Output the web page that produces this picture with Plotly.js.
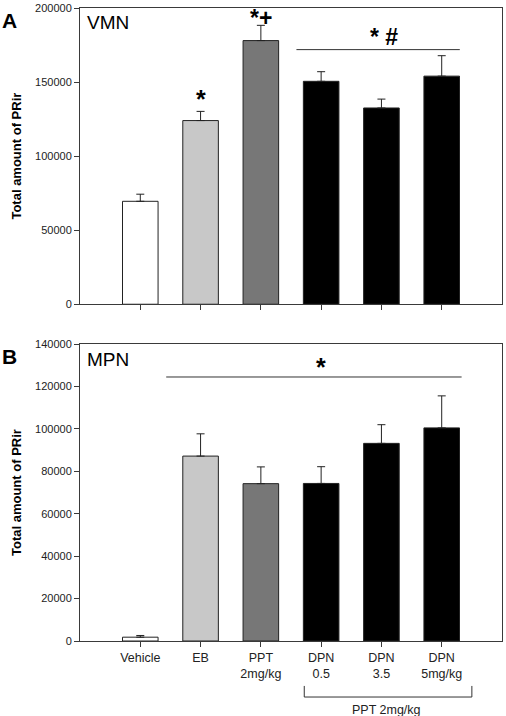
<!DOCTYPE html>
<html>
<head>
<meta charset="utf-8">
<script src="https://cdn.plot.ly/plotly-3.0.1.min.js"></script>
<style>html,body{margin:0;padding:0;background:#fff;}#chart{width:506px;height:716px;}</style>
</head>
<body>
<div id="chart"></div>
<script>
var categories = ['Vehicle', 'EB', 'PPT<br>2mg/kg', 'DPN<br>0.5', 'DPN<br>3.5', 'DPN<br>5mg/kg'];
var barColors = ['#ffffff', '#c8c8c8', '#777777', '#000000', '#000000', '#000000'];
var vmnMeans = [69500, 124000, 178000, 150500, 132500, 154000];
var vmnSem = [4800, 6200, 10300, 6500, 6000, 13800];
var mpnMeans = [1800, 87200, 74200, 74300, 93200, 100500];
var mpnSem = [800, 10500, 7900, 7900, 8800, 15100];
var vmnTicks = [0, 50000, 100000, 150000, 200000];
var mpnTicks = [0, 20000, 40000, 60000, 80000, 100000, 120000, 140000];

var zeros = categories.map(function(){return 0;});
var font = 'Liberation Sans, Arial, sans-serif';
var lineCol = '#3a3a3a';

function barTrace(means, sem, xa, ya) {
  return {
    type: 'bar', x: categories, y: means, xaxis: xa, yaxis: ya,
    width: 0.59,
    marker: {color: barColors, line: {color: '#222', width: 1}},
    error_y: {type: 'data', symmetric: false, array: sem, arrayminus: zeros,
              color: '#222', thickness: 1, width: 4},
    hoverinfo: 'none', showlegend: false
  };
}

var data = [barTrace(vmnMeans, vmnSem, 'x', 'y'), barTrace(mpnMeans, mpnSem, 'x2', 'y2')];

function yAxis(ticks, max, domain, anchor) {
  return {
    domain: domain, anchor: anchor, range: [0, max], tickvals: ticks,
    ticktext: ticks.map(String),
    showgrid: false, zeroline: false, showline: true, mirror: true,
    linecolor: lineCol, linewidth: 1, ticks: 'outside', ticklen: 5, tickcolor: lineCol,
    tickfont: {family: font, size: 11, color: '#222'},
    title: {text: '<b>Total amount of PRir</b>', font: {family: font, size: 13, color: '#000'}, standoff: 10}
  };
}
function xAxis(anchor, showLabels) {
  return {
    anchor: anchor, range: [-1, 6], type: 'category',
    showgrid: false, zeroline: false, showline: true, mirror: true,
    linecolor: lineCol, linewidth: 1, ticks: 'outside', ticklen: 5, tickcolor: lineCol,
    showticklabels: showLabels,
    tickfont: {family: font, size: 12.5, color: '#222'}
  };
}

var layout = {
  width: 506, height: 716,
  margin: {l: 80, r: 4, t: 8, b: 75},
  paper_bgcolor: '#fff', plot_bgcolor: '#fff',
  bargap: 0.4,
  xaxis: xAxis('y', false),
  yaxis: yAxis(vmnTicks, 200000, [0.532, 1], 'x'),
  xaxis2: xAxis('y2', true),
  yaxis2: yAxis(mpnTicks, 140000, [0, 0.469], 'x2'),
  shapes: [
    {type: 'line', xref: 'x', yref: 'y', x0: 2.59, x1: 5.30, y0: 171900, y1: 171900, line: {color: '#333', width: 1}},
    {type: 'line', xref: 'x2', yref: 'y2', x0: 0.43, x1: 5.33, y0: 124500, y1: 124500, line: {color: '#333', width: 1}},
    {type: 'path', xref: 'x2', yref: 'paper', path: 'M 2.72 -0.071 L 2.72 -0.0885 L 5.5 -0.0885 L 5.5 -0.071', line: {color: '#333', width: 1}}
  ],
  annotations: [
    {text: '<b>A</b>', xref: 'paper', yref: 'paper', x: -0.19, y: 1.002, xanchor: 'left', yanchor: 'top', showarrow: false, font: {family: font, size: 21, color: '#000'}},
    {text: '<b>B</b>', xref: 'paper', yref: 'paper', x: -0.19, y: 0.47, xanchor: 'left', yanchor: 'top', showarrow: false, font: {family: font, size: 21, color: '#000'}},
    {text: 'VMN', xref: 'paper', yref: 'paper', x: 0.012, y: 0.997, xanchor: 'left', yanchor: 'top', showarrow: false, font: {family: font, size: 19, color: '#000'}},
    {text: 'MPN', xref: 'paper', yref: 'paper', x: 0.012, y: 0.465, xanchor: 'left', yanchor: 'top', showarrow: false, font: {family: font, size: 19, color: '#000'}},
    {text: '<b>*</b>', xref: 'x', yref: 'y', x: 1, y: vmnMeans[1] + vmnSem[1], yanchor: 'bottom', yshift: -4, showarrow: false, font: {family: font, size: 25, color: '#000'}},
    {text: '<b>*+</b>', xref: 'x', yref: 'y', x: 2, y: vmnMeans[2] + vmnSem[2], yanchor: 'bottom', yshift: -8, showarrow: false, font: {family: font, size: 23, color: '#000'}},
    {text: '<b>* #</b>', xref: 'x', yref: 'y', x: 4.05, y: 171900, yanchor: 'bottom', yshift: -2, showarrow: false, font: {family: font, size: 23, color: '#000'}},
    {text: '<b>*</b>', xref: 'x2', yref: 'y2', x: 3, y: 124500, yanchor: 'bottom', yshift: -6, showarrow: false, font: {family: font, size: 25, color: '#000'}},
    {text: 'PPT 2mg/kg', xref: 'x2', yref: 'paper', x: 4.08, y: -0.094, yanchor: 'top', showarrow: false, font: {family: font, size: 12.5, color: '#222'}}
  ]
};

Plotly.newPlot('chart', data, layout, {displayModeBar: false, staticPlot: true});
</script>
</body>
</html>
